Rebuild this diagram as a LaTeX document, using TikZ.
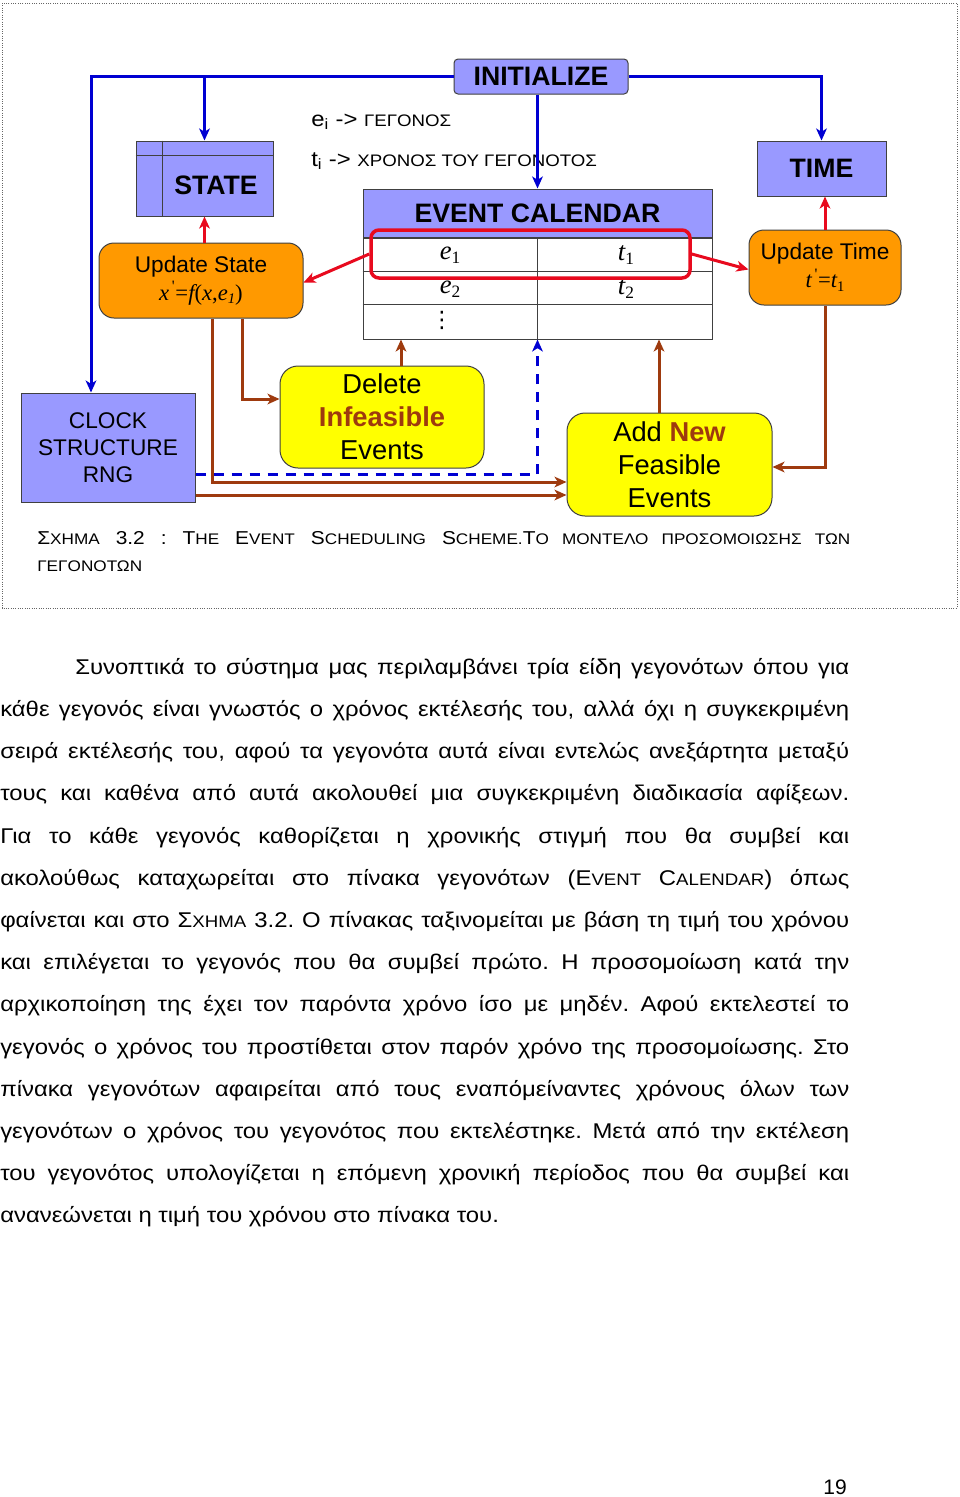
\documentclass[tikz,border=0pt]{standalone}
\usepackage{fontspec}
\setmainfont{Liberation Sans}
\newfontfamily\tms{Liberation Serif}
\newfontfamily\djv{DejaVu Sans}
\newfontfamily\wide[FakeStretch=1.12]{Liberation Sans}
\usetikzlibrary{arrows.meta}
\newdimen\px \px=0.75pt
\definecolor{peri}{RGB}{153,153,255}
\definecolor{orng}{RGB}{255,153,0}
\definecolor{yel}{RGB}{255,255,0}
\definecolor{brn}{RGB}{158,58,14}
\definecolor{blu}{RGB}{0,0,210}
\definecolor{rd}{RGB}{232,10,30}
\newcommand\smc[2][11.5pt]{{\fontsize{#1}{#1}\selectfont #2}}
\tikzset{hdr/.style = {draw=black!75, fill=peri, line width=1\px, inner sep=0pt,
                       font=\fontsize{20pt}{24pt}\selectfont\bfseries}}
\tikzset{upd/.style = {draw=black!75, fill=orng, rounded corners=15\px, line width=1\px,
                       inner sep=0pt, align=center, font=\fontsize{17pt}{21pt}\selectfont}}
\tikzset{act/.style = {draw=black!75, fill=yel, rounded corners=18\px, line width=1\px,
                       inner sep=0pt, align=center, font=\fontsize{20.5pt}{24.75pt}\selectfont}}
\tikzset{cell/.style = {inner sep=0pt, font=\fontsize{20pt}{24pt}\selectfont\tms\itshape}}
\tikzset{init/.style = {draw=blu, line width=3\px, -{Stealth[length=9pt,width=8pt,inset=2.5pt]}}}
\tikzset{upd edge/.style = {draw=rd, line width=3\px, -{Stealth[length=9pt,width=8pt,inset=2.5pt]}}}
\tikzset{sched/.style = {draw=brn, line width=3\px, -{Stealth[length=9pt,width=8pt,inset=2.5pt]}}}

\begin{document}
\begin{tikzpicture}[x=0.75pt,y=-0.75pt]
  \path[use as bounding box, fill=white] (0,0) rectangle (960,1497);
  \draw[densely dotted, black!60, line width=1\px] (2,3) rectangle (957,608);

  % boxes
  \node[hdr, rounded corners=4\px, minimum width=174\px, minimum height=35\px] (init) at (541,76.5) {INITIALIZE};
  \node[hdr, minimum width=137\px, minimum height=75\px] (state) at (204.5,178.5) {};
  \draw[black!75, line width=1\px] ([yshift=-15\px]state.north west) -- ([yshift=-15\px]state.north east);
  \draw[black!75, line width=1\px] ([xshift=27\px]state.north west) -- ([xshift=27\px]state.south west);
  \node[font=\fontsize{20pt}{24pt}\selectfont\bfseries, inner sep=0pt] (statetxt) at (216,185) {STATE};
  \node[hdr, minimum width=129\px, minimum height=55\px] (time) at (821.5,168.5) {TIME};
  \node[hdr, minimum width=349\px, minimum height=48\px] (calhdr) at (537.5,213) {EVENT CALENDAR};
  \node[draw=black!75, line width=1\px, minimum width=349\px, minimum height=101\px, anchor=north] (cal) at (calhdr.south) {};
  \draw[black!75, line width=1\px] ([yshift=-34\px]cal.north west) -- ([yshift=-34\px]cal.north east);
  \draw[black!75, line width=1\px] ([yshift=-67\px]cal.north west) -- ([yshift=-67\px]cal.north east);
  \draw[black!75, line width=1\px] (cal.north) -- (cal.south);
  \node[cell] (e1) at (450,255) {e\raisebox{-0.35ex}{\fontsize{13pt}{13pt}\selectfont\upshape 1}};
  \node[cell] (t1) at (626,255) {t\raisebox{-0.35ex}{\fontsize{13pt}{13pt}\selectfont\upshape 1}};
  \node[cell] (e2) at (450,289) {e\raisebox{-0.35ex}{\fontsize{13pt}{13pt}\selectfont\upshape 2}};
  \node[cell] (t2) at (626,289) {t\raisebox{-0.35ex}{\fontsize{13pt}{13pt}\selectfont\upshape 2}};
  \node[inner sep=0pt, font=\fontsize{17pt}{20pt}\djv] (dots) at (442,320) {⋮};
  \node[draw=rd, line width=3.5\px, rounded corners=8\px, minimum width=319\px, minimum height=48\px] (sel) at (530.5,254) {};

  \node[upd, minimum width=204\px, minimum height=75\px] (ustate) at (201,280.5)
       {Update State\\{\tms\itshape x\textsuperscript{\,\upshape'}\upshape=\itshape f\upshape(\itshape x\upshape,\itshape e\raisebox{-0.35ex}{\fontsize{11pt}{11pt}\selectfont 1}\upshape)}};
  \node[upd, minimum width=152\px, minimum height=75\px] (utime) at (825,267.5)
       {Update Time\\{\tms\itshape t\textsuperscript{\,\upshape'}\upshape=\itshape t\raisebox{-0.35ex}{\fontsize{11pt}{11pt}\selectfont\upshape 1}}};
  \node[hdr, font=\fontsize{17pt}{20.25pt}\selectfont, align=center, minimum width=174\px, minimum height=109\px] (clock) at (108,447.5)
       {CLOCK\\STRUCTURE\\RNG};
  \node[act, minimum width=204\px, minimum height=102\px] (del) at (382,417)
       {Delete\\\textcolor{brn}{\bfseries Infeasible}\\Events};
  \node[act, minimum width=205\px, minimum height=103\px] (add) at (669.5,464.5)
       {Add \textcolor{brn}{\bfseries New}\\Feasible\\Events};

  % legend
  \node[anchor=base west, inner sep=0pt, font=\fontsize{16pt}{19pt}\wide] (evlbl) at (311,126)
       {e\textsubscript{i} -> \smc[12.5pt]{ΓΕΓΟΝΟΣ}};
  \node[anchor=base west, inner sep=0pt, font=\fontsize{16pt}{19pt}\wide] (tmlbl) at (311,166)
       {t\textsubscript{i} -> \smc[12.5pt]{ΧΡΟΝΟΣ ΤΟΥ ΓΕΓΟΝΟΤΟΣ}};

  % connectors
  \draw[init] (init.west) -| ([xshift=-17\px]clock.north);
  \draw[init] (state.north |- init.west) -- (state.north);
  \draw[init] (init.east) -| (time.north);
  \draw[init] (init.south -| cal.north) -- (calhdr.north);
  \draw[init, dashed, dash pattern=on 7.5pt off 6pt] ([yshift=-26.5\px]clock.east) -| (cal.south);

  \draw[upd edge] (sel.west) -- ([yshift=-2\px]ustate.east);
  \draw[upd edge] (sel.east) -- ([yshift=-2\px]utime.west);
  \draw[upd edge] (state.south |- ustate.north) -- (state.south);
  \draw[upd edge] (utime.north) -- (utime.north |- time.south);

  \draw[sched] ([xshift=41\px]ustate.south) |- ([yshift=18\px]del.west);
  \draw[sched] ([xshift=11\px]ustate.south) |- ([yshift=-17.5\px]add.west);
  \draw[sched] ([yshift=-47.5\px]clock.east) -- ([yshift=-30.5\px]add.west);
  \draw[sched] (utime.south) |- ([yshift=-2.5\px]add.east);
  \draw[sched] ([xshift=19\px]del.north) -- ([xshift=19\px]del.north |- cal.south);
  \draw[sched] ([xshift=-10.5\px]add.north) -- ([xshift=-10.5\px]add.north |- cal.south);

  % caption
  \node[anchor=north west, inner sep=0pt, text width=813\px, align=justify,
        font=\fontsize{14pt}{20.25pt}\wide\frenchspacing] (caption) at (37,531)
       {Σ\smc{ΧΗΜΑ} 3.2 : T\smc{HE} E\smc{VENT} S\smc{CHEDULING} S\smc{CHEME.}Τ\smc{Ο ΜΟΝΤΕΛΟ ΠΡΟΣΟΜΟΙΩΣΗΣ ΤΩΝ}\linebreak
        \smc{ΓΕΓΟΝΟΤΩΝ}};

  % text
  \node[anchor=north west, inner sep=0pt, text width=849\px, align=justify,
        font=\fontsize{16pt}{31.65pt}\wide\frenchspacing] (body) at (0,658)
       {\hyphenpenalty=10000\relax\hspace*{75\px}Συνοπτικά το σύστημα μας περιλαμβάνει τρία είδη γεγονότων όπου για\linebreak
        κάθε γεγονός είναι γνωστός ο χρόνος εκτέλεσής του, αλλά όχι η συγκεκριμένη\linebreak
        σειρά εκτέλεσής του, αφού τα γεγονότα αυτά είναι εντελώς ανεξάρτητα μεταξύ\linebreak
        τους και καθένα από αυτά ακολουθεί μια συγκεκριμένη διαδικασία αφίξεων.\linebreak
        Για το κάθε γεγονός καθορίζεται η χρονικής στιγμή που θα συμβεί και\linebreak
        ακολούθως καταχωρείται στο πίνακα γεγονότων (E\smc[12.5pt]{VENT} C\smc[12.5pt]{ALENDAR}) όπως\linebreak
        φαίνεται και στο Σ\smc[12.5pt]{ΧΗΜΑ} 3.2. Ο πίνακας ταξινομείται με βάση τη τιμή του χρόνου\linebreak
        και επιλέγεται το γεγονός που θα συμβεί πρώτο. Η προσομοίωση κατά την\linebreak
        αρχικοποίηση της έχει τον παρόντα χρόνο ίσο με μηδέν. Αφού εκτελεστεί το\linebreak
        γεγονός ο χρόνος του προστίθεται στον παρόν χρόνο της προσομοίωσης. Στο\linebreak
        πίνακα γεγονότων αφαιρείται από τους εναπόμείναντες χρόνους όλων των\linebreak
        γεγονότων ο χρόνος του γεγονότος που εκτελέστηκε. Μετά από την εκτέλεση\linebreak
        του γεγονότος υπολογίζεται η επόμενη χρονική περίοδος που θα συμβεί και\linebreak
        ανανεώνεται η τιμή του χρόνου στο πίνακα του.};

  \node[font=\fontsize{15.75pt}{19pt}\selectfont] (pgnum) at (835,1487) {19};
\end{tikzpicture}
\end{document}
